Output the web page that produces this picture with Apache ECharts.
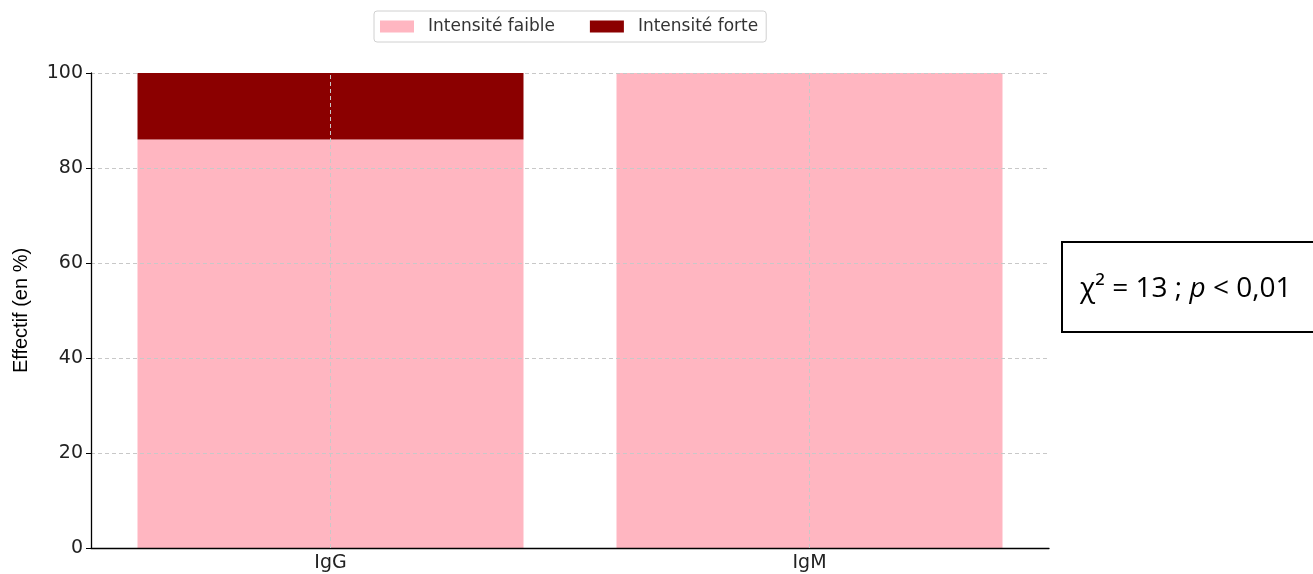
<!DOCTYPE html>
<html><head><meta charset="utf-8">
<script src="https://cdn.jsdelivr.net/npm/echarts@6/dist/echarts.min.js"></script>
<style>html,body{margin:0;padding:0;background:#fff}#c{width:1313px;height:574px}</style>
</head><body><div id="c"></div>
<script>
const categories = ['IgG', 'IgM'];
const faible = [86, 100];
const forte = [14, 0];
const yTicks = [0, 20, 40, 60, 80, 100];
const seriesNames = ['Intensité faible', 'Intensité forte'];
const annotation = 'χ² = 13 ; ';

const chart = echarts.init(document.getElementById('c'));
const font = 'DejaVu Sans';
const gridLine = { color: '#c8c8c8', type: [4, 3], width: 1 };
chart.setOption({
  animation: false,
  textStyle: { fontFamily: font },
  legend: {
    data: seriesNames,
    left: 374, top: 11,
    icon: 'rect',
    itemWidth: 34, itemHeight: 12, itemGap: 35,
    borderColor: '#d0d0d0', borderWidth: 1, borderRadius: 3,
    padding: [7, 8, 7, 6],
    textStyle: { fontFamily: font, fontSize: 17, color: '#333', padding: [0, 0, 0, 9] }
  },
  grid: { left: 91, right: 264, top: 73, bottom: 26 },
  xAxis: {
    type: 'category', data: categories, z: 4,
    axisLine: { lineStyle: { color: '#000', width: 1.3 } },
    axisTick: { alignWithLabel: true, length: 5, lineStyle: { color: '#000' } },
    axisLabel: { fontSize: 19, color: '#222', margin: 6 },
    splitLine: { show: false }
  },
  yAxis: {
    type: 'value', min: 0, max: 100, interval: 20, z: 3,
    name: 'Effectif (en %)', nameLocation: 'middle', nameGap: 60,
    nameTextStyle: { fontSize: 20, color: '#000', fontFamily: 'Liberation Sans' },
    axisLine: { show: true, lineStyle: { color: '#000', width: 1.3 } },
    axisTick: { show: true, length: 5, lineStyle: { color: '#000' } },
    axisLabel: { fontSize: 19, color: '#222', margin: 8,
      formatter: v => yTicks.includes(v) ? String(v) : '' },
    splitLine: { show: true, lineStyle: gridLine }
  },
  series: [
    { name: seriesNames[0], type: 'bar', stack: 's', data: faible, barWidth: 386, z: 2,
      itemStyle: { color: '#FFB6C1' } },
    { name: seriesNames[1], type: 'bar', stack: 's', data: forte, barWidth: 386, z: 3,
      itemStyle: { color: '#8B0000' },
      markLine: { silent: true, symbol: 'none', label: { show: false }, z: 6,
        lineStyle: gridLine,
        data: [{ xAxis: 0 }, { xAxis: 1 }] } }
  ],
  graphic: [
    { type: 'rect', left: 1061, top: 241, shape: { width: 270, height: 90 },
      style: { fill: '#fff', stroke: '#000', lineWidth: 2 } },
    { type: 'text', left: 1080, top: 275,
      style: { text: annotation + '{i|p} < 0,01', font: '28px "Open Sans"', fill: '#000',
        rich: { i: { fontStyle: 'italic', fontSize: 28, fontFamily: 'Open Sans', fill: '#000' } } } }
  ]
});
</script></body></html>
